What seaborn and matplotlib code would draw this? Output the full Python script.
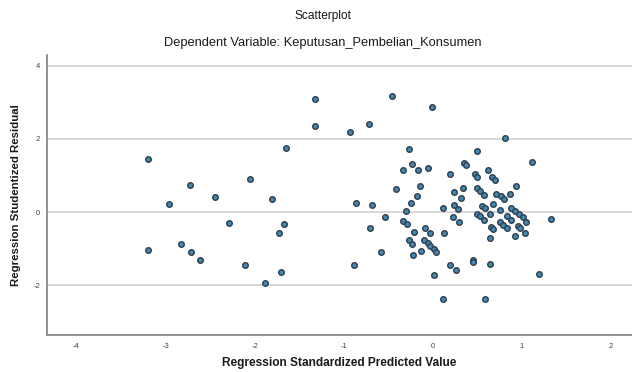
import matplotlib
matplotlib.use("Agg")
import matplotlib.pyplot as plt
import seaborn as sns
import pandas as pd

predicted = [
    -1.32, -1.32, -1.65, -3.20, -2.05, -2.73, -2.44, -1.81, -2.96, -2.29,
    -1.67, -1.73, -3.20, -2.83, -2.71, -2.61, -2.11, -1.70, -1.88,
    -0.46, -0.01, -0.72, -0.93, 0.81, -0.27, 0.50, 1.11, -0.86, -0.68,
    -0.54, -0.71, 1.32, -0.58, -0.89, 0.01, 1.19, 0.11, 0.59, 0.19,
    0.26, 0.45, 0.45, 0.64, -0.41, -0.34, -0.23, -0.17, -0.05, -0.15,
    -0.18, -0.25, -0.30, -0.33, -0.29, -0.21, -0.09, -0.03, 0.12, 0.11,
    -0.27, -0.24, -0.10, -0.06, -0.03, 0.01, 0.04, -0.13, -0.22, 0.19,
    0.24, 0.34, 0.32, 0.24, 0.28, 0.23, 0.29, 0.35, 0.37, 0.47,
    0.49, 0.62, 0.66, 0.70, 0.49, 0.53, 0.57, 0.93, 0.86, 0.71,
    0.76, 0.80, 0.68, 0.55, 0.58, 0.75, 0.88, 0.92, 0.97, 1.01,
    1.05, 0.83, 0.88, 0.49, 0.53, 0.57, 0.64, 0.75, 0.79, 0.83,
    0.65, 0.67, 0.95, 0.98, 1.03, 0.92, 0.64,
]
residual = [
    3.08, 2.35, 1.76, 1.46, 0.91, 0.73, 0.40, 0.36, 0.21, -0.31,
    -0.32, -0.57, -1.04, -0.86, -1.10, -1.32, -1.44, -1.65, -1.94,
    3.17, 2.87, 2.40, 2.19, 2.02, 1.73, 1.68, 1.37, 0.26, 0.20,
    -0.13, -0.43, -0.19, -1.10, -1.44, -1.72, -1.68, -2.39, -2.39, -1.44,
    -1.59, -1.31, -1.37, -1.42, 0.63, 1.16, 1.31, 1.15, 1.20, 0.72,
    0.43, 0.26, 0.03, -0.25, -0.34, -0.54, -0.43, -0.57, -0.56, 0.12,
    -0.77, -0.86, -0.77, -0.85, -0.93, -1.02, -1.09, -1.07, -1.17, 1.04,
    0.54, 0.66, 0.38, 0.20, 0.08, -0.13, -0.28, 1.33, 1.28, 1.05,
    0.97, 1.14, 0.96, 0.87, 0.66, 0.57, 0.47, 0.70, 0.50, 0.50,
    0.44, 0.35, 0.23, 0.17, 0.11, 0.05, 0.12, 0.04, -0.05, -0.13,
    -0.27, -0.12, -0.22, -0.04, -0.12, -0.21, -0.05, -0.28, -0.35, -0.44,
    -0.42, -0.46, -0.38, -0.43, -0.57, -0.65, -0.72,
]
x_ticks = [-4, -3, -2, -1, 0, 1, 2]
y_ticks = [-2, 0, 2, 4]

df = pd.DataFrame({"pred": predicted, "resid": residual})

sns.set_style("white")
plt.rcParams["font.family"] = ["Liberation Sans", "DejaVu Sans"]
plt.rcParams["axes.unicode_minus"] = False

fig = plt.figure(figsize=(6.32, 3.72), dpi=100)
ax = fig.add_axes([0.0744, 0.0995, 0.925, 0.7525])

for yv in y_ticks:
    ax.axhline(yv, color="#d4d4d4", lw=1.3, zorder=0)

sns.scatterplot(data=df, x="pred", y="resid", ax=ax, s=16,
                color="#4189b3", edgecolor="#2f3d4d", linewidth=1.0, zorder=3)

ax.set_xlim(-4.33, 2.23)
ax.set_ylim(-3.36, 4.29)
ax.set_xticks(x_ticks)
ax.set_yticks(y_ticks)
ax.tick_params(axis="x", length=0, labelsize=5.5, pad=6, colors="#444444")
ax.tick_params(axis="y", length=3, width=0.8, labelsize=5.5, pad=2,
               colors="#444444", direction="out")
for s in ["top", "right"]:
    ax.spines[s].set_visible(False)
for s in ["left", "bottom"]:
    ax.spines[s].set_color("#8a8a8a")
    ax.spines[s].set_linewidth(1.3)

ax.set_xlabel("Regression Standardized Predicted Value", fontsize=8.6,
              fontweight="bold", color="#1a1a1a", labelpad=5)
ax.set_ylabel("Regression Studentized Residual", fontsize=8.2,
              fontweight="bold", color="#1a1a1a", labelpad=9)

fig.text(0.511, 0.958, "Scatterplot", ha="center", va="center",
         fontsize=8.6, color="#1a1a1a")
fig.text(0.511, 0.884, "Dependent Variable: Keputusan_Pembelian_Konsumen",
         ha="center", va="center", fontsize=9.3, color="#1a1a1a")

fig.savefig("out.png", dpi=100)
